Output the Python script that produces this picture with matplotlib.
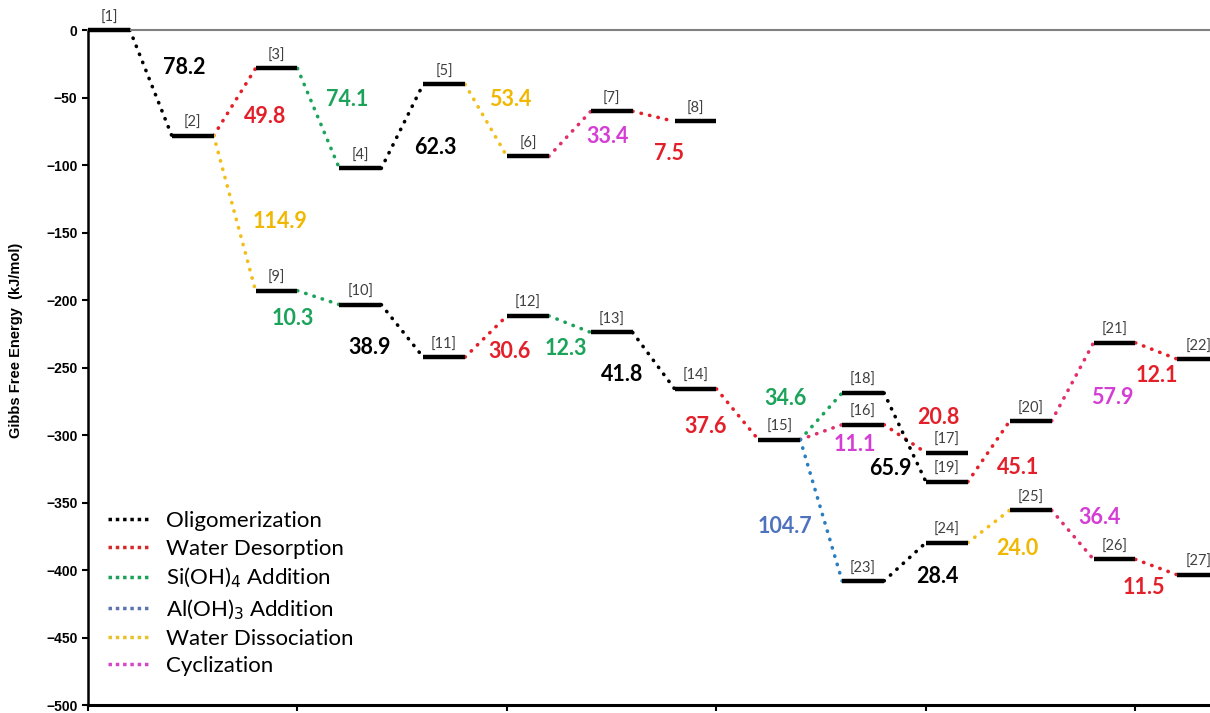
import matplotlib.pyplot as plt
from matplotlib.lines import Line2D

# intermediates: name, slot along the path, Gibbs free energy (kJ/mol)
names = ['[%d]' % i for i in range(1, 28)]
slots = [0, 1, 2, 3, 4, 5, 6, 7, 2, 3, 4, 5, 6, 7, 8, 9, 10, 9, 10, 11, 12, 13,
         9, 10, 11, 12, 13]
energies = [0.0, -78.2, -28.4, -102.5, -40.2, -93.6, -60.2, -67.7,
            -193.1, -203.4, -242.3, -211.7, -224.0, -265.8, -303.4,
            -292.3, -313.1, -268.8, -334.7, -289.6, -231.7, -243.8,
            -408.1, -379.7, -355.7, -392.1, -403.6]

# steps: from, to (1-based), step type, energy change shown
steps_from = [1, 2, 3, 4, 5, 6, 7, 2, 9, 10, 11, 12, 13, 14, 15, 15, 16, 18, 19, 20, 21, 15, 23, 24, 25, 26]
steps_to = [2, 3, 4, 5, 6, 7, 8, 9, 10, 11, 12, 13, 14, 15, 18, 16, 17, 19, 20, 21, 22, 23, 24, 25, 26, 27]
steps_kind = ['olig', 'wdes', 'si', 'olig', 'wdis', 'cyc', 'wdes', 'wdis', 'si', 'olig',
              'wdes', 'si', 'olig', 'wdes', 'si', 'cyc', 'wdes', 'olig', 'wdes', 'cyc',
              'wdes', 'al', 'olig', 'wdis', 'cyc', 'wdes']
steps_value = [78.2, 49.8, 74.1, 62.3, 53.4, 33.4, 7.5, 114.9, 10.3, 38.9,
               30.6, 12.3, 41.8, 37.6, 34.6, 11.1, 20.8, 65.9, 45.1, 57.9,
               12.1, 104.7, 28.4, 24.0, 36.4, 11.5]

# where the step values are written (data coordinates)
label_x = [2.29, 4.22, 6.18, 8.28, 10.07, 12.39, 13.87, 4.58, 4.89, 6.73,
           10.07, 11.41, 12.74, 14.73, 16.64, 18.3, 20.29, 19.14, 22.2, 24.45,
           25.5, 16.64, 20.26, 22.17, 24.15, 25.2]
label_y = [-28, -63.7, -51.1, -86.7, -51.1, -79, -91.1, -142, -213.5, -235.5,
           -238.5, -236, -255.5, -294, -273, -307, -287, -325, -324, -272,
           -256, -368, -405, -384, -361, -413]

kinds = ['olig', 'wdes', 'si', 'al', 'wdis', 'cyc']
kind_names = ['Oligomerization', 'Water Desorption', 'Si(OH)$_4$ Addition',
              'Al(OH)$_3$ Addition', 'Water Dissociation', 'Cyclization']
line_col = {'olig': '#000000', 'wdes': '#E3202A', 'si': '#1BA35A', 'al': '#2A7EC0',
            'wdis': '#F2BE1A', 'cyc': '#E0306A'}
text_col = {'olig': '#000000', 'wdes': '#E3202A', 'si': '#1BA35A', 'al': '#4F72BE',
            'wdis': '#F0B800', 'cyc': '#D43ED4'}
legend_col = {'olig': '#000000', 'wdes': '#D42A2A', 'si': '#1FA05A', 'al': '#5B74B0',
              'wdis': '#E8C12A', 'cyc': '#D846C8'}

plt.rcParams['font.family'] = ['Lato', 'DejaVu Sans']

fig = plt.figure(figsize=(12.1, 7.13), dpi=100)
ax = fig.add_axes([0.0727, 0.0112, 0.9273, 0.9467])

# dotted connectors between levels
for f, t, k in zip(steps_from, steps_to, steps_kind):
    x0 = 2 * slots[f - 1] + 1
    x1 = 2 * slots[t - 1]
    ax.plot([x0, x1], [energies[f - 1], energies[t - 1]], color=line_col[k],
            lw=2.6, linestyle=(0, (0.1, 2.3)), dash_capstyle='round',
            clip_on=False, zorder=2)

# energy levels
for n, s, e in zip(names, slots, energies):
    ax.plot([2 * s, 2 * s + 1], [e, e], color='black', lw=3.2,
            solid_capstyle='butt', clip_on=False, zorder=3)
    ax.annotate(n, (2 * s + 0.5, e), xytext=(0, 4), textcoords='offset points',
                ha='center', va='bottom', fontsize=10.5, color='#404040',
                annotation_clip=False)

for v, k, lx, ly in zip(steps_value, steps_kind, label_x, label_y):
    ax.text(lx, ly, '%.1f' % v, color=text_col[k], fontsize=15.5, fontweight='bold',
            ha='center', va='center', clip_on=False)

ax.set_xlim(0, 26.78)
ax.set_ylim(-500, 0)
ax.set_xticks([0, 5, 10, 15, 20, 25])
ax.set_xticklabels([])
ax.set_yticks(range(-500, 1, 50))
ax.tick_params(axis='both', direction='out', length=4, width=1.5)
for lab in ax.get_yticklabels():
    lab.set_fontfamily('Liberation Sans')
    lab.set_fontweight('bold')
    lab.set_fontsize(10)

ax.spines['right'].set_visible(False)
ax.spines['top'].set_color('#808080')
ax.spines['top'].set_linewidth(1.5)
ax.spines['left'].set_linewidth(1.8)
ax.spines['bottom'].set_linewidth(2.2)

ax.set_ylabel('Gibbs Free Energy  (kJ/mol)', fontfamily='Liberation Sans',
              fontweight='bold', fontsize=10.5)
ax.yaxis.set_label_coords(-0.058, 0.54)

handles = [Line2D([], [], color=legend_col[k], lw=2.5, linestyle=(0, (1, 1.1)),
                  dash_capstyle='butt') for k in kinds]
ax.legend(handles, kind_names, loc='lower left', bbox_to_anchor=(0.0, 0.013),
          frameon=False, fontsize=16, handlelength=1.9, handletextpad=0.7,
          labelspacing=0.33)

fig.savefig('out.png', dpi=100)
